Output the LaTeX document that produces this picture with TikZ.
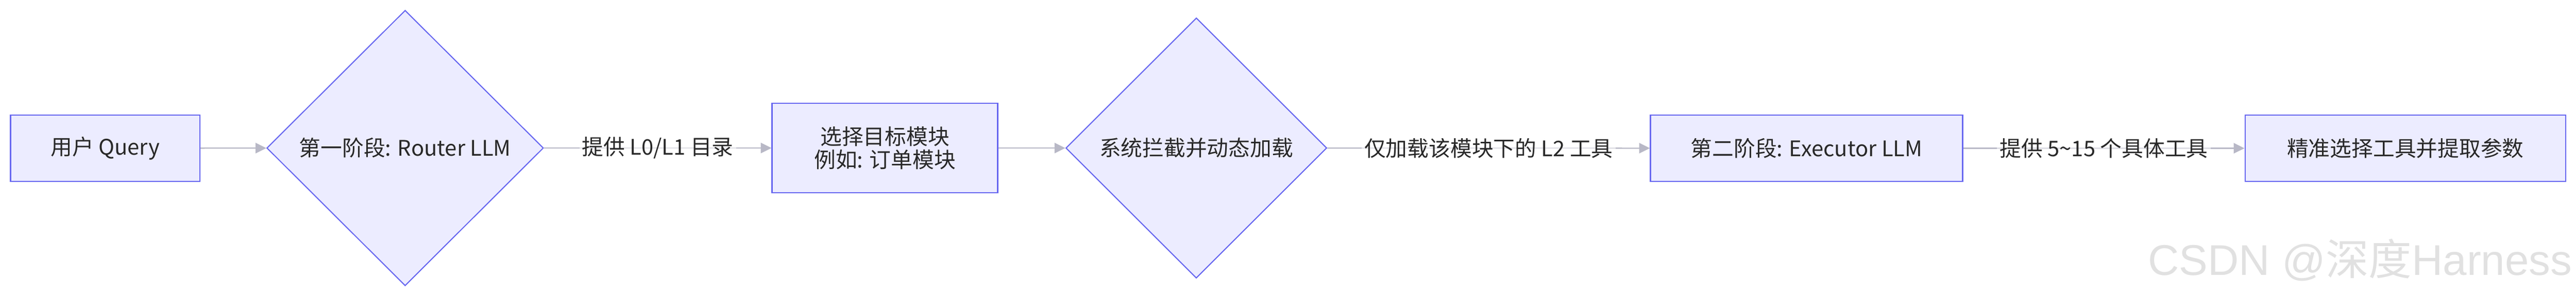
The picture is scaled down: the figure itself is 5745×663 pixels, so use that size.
\documentclass[tikz,border=0pt]{standalone}
\usepackage{fontspec}
\newfontfamily\cjk{Noto Sans CJK SC}
\newfontfamily\wmfont{Liberation Sans}
\usetikzlibrary{shapes.geometric,arrows.meta}
\definecolor{nodefill}{RGB}{236,236,255}
\definecolor{nodeline}{RGB}{102,102,240}
\definecolor{edgeline}{RGB}{184,184,198}
\definecolor{txt}{RGB}{40,40,40}
\definecolor{wmgray}{RGB}{225,225,225}

\begin{document}
\begin{tikzpicture}[x=0.25pt,y=-0.25pt]

  \tikzstyle{bnode} = [draw=nodeline, fill=nodefill, line width=0.7pt, rectangle, minimum height=37pt, inner sep=2pt, align=center, text=txt, font=\cjk\fontsize{12}{12.75}\selectfont]
  \tikzstyle{dnode} = [draw=nodeline, fill=nodefill, line width=0.6pt, diamond, inner sep=0pt, text=txt, font=\cjk\fontsize{12}{14}\selectfont]
  \tikzstyle{elabel} = [fill=white, fill opacity=0.55, text opacity=1, text=txt, inner sep=1.5pt, font=\cjk\fontsize{12}{14}\selectfont]
  \tikzstyle{flow} = [draw=edgeline, line width=0.65pt, -{Triangle[length=6pt,width=5.8pt]}]

  \useasboundingbox (0,0) rectangle (5745,663);

  \node[bnode, minimum width=105.5pt] (query) at (234.5,331.5) {用户 Query};
  \node[dnode, minimum width=154.25pt, minimum height=154pt] (router) at (903.5,331) {第一阶段: Router LLM};
  \node[bnode, minimum width=125.75pt, minimum height=50pt] (module) at (1973.5,331) {选择目标模块\\例如: 订单模块};
  \node[dnode, minimum width=145.5pt, minimum height=145.5pt] (load) at (2668,331) {系统拦截并动态加载};
  \node[bnode, minimum width=174pt] (executor) at (4029,331.5) {第二阶段: Executor LLM};
  \node[bnode, minimum width=178.75pt] (tools) at (5364.5,331.5) {精准选择工具并提取参数};

  \draw[flow] (query) -- (router);
  \draw[flow] (router) -- node[elabel]{提供 L0/L1 目录} (module);
  \draw[flow] (module) -- (load);
  \draw[flow] (load) -- node[elabel]{仅加载该模块下的 L2 工具} (executor);
  \draw[flow] (executor) -- node[elabel]{提供 5\textasciitilde15 个具体工具} (tools);

  % watermark
  \node[anchor=base east, inner sep=0pt, text=wmgray, font=\fontsize{24}{28}\selectfont] (mark) at (5737,615) {\wmfont CSDN @\cjk 深度\wmfont Harness};

\end{tikzpicture}
\end{document}
